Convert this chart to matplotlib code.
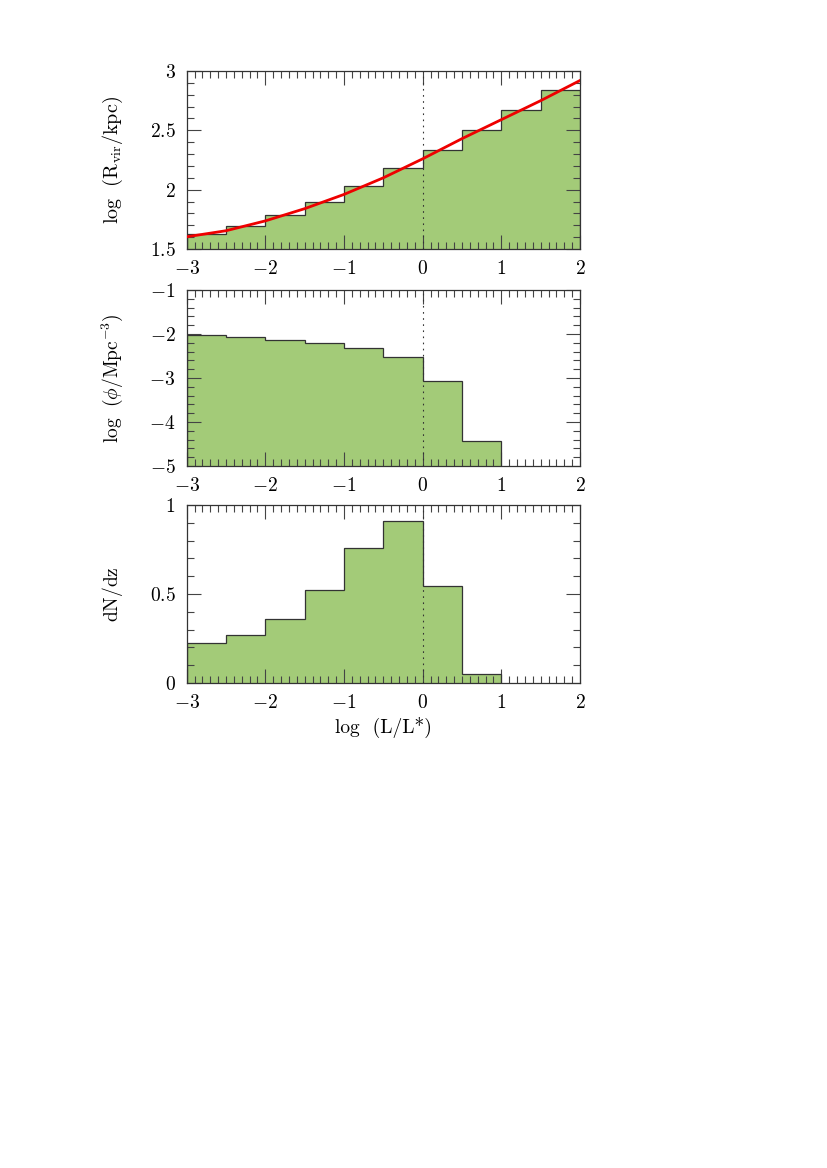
import matplotlib
matplotlib.use('Agg')
import matplotlib.pyplot as plt
from matplotlib.ticker import MultipleLocator, FuncFormatter
import numpy as np

plt.rcParams['font.family'] = 'serif'
plt.rcParams['font.serif'] = ['cmr10', 'DejaVu Serif']
plt.rcParams['mathtext.fontset'] = 'cm'
plt.rcParams['axes.unicode_minus'] = False

# bin edges in log(L/L*)
edges = [-3.0, -2.5, -2.0, -1.5, -1.0, -0.5, 0.0, 0.5, 1.0, 1.5, 2.0]
edges_phi = [-3.0, -2.5, -2.0, -1.5, -1.0, -0.5, 0.0, 0.5, 1.0]
edges_dndz = [-3.0, -2.5, -2.0, -1.5, -1.0, -0.5, 0.0, 0.5, 1.0]

# histogram values
log_rvir = [1.63, 1.69, 1.785, 1.90, 2.03, 2.18, 2.335, 2.50, 2.67, 2.84]
log_phi = [-2.02, -2.07, -2.14, -2.20, -2.31, -2.53, -3.06, -4.42]
dndz = [0.223, 0.268, 0.362, 0.525, 0.76, 0.91, 0.548, 0.053]

# red relation in the top panel
curve_x = [-3.0, -2.5, -2.0, -1.5, -1.0, -0.5, 0.0, 0.5, 1.0, 1.5, 2.0]
curve_y = [1.603, 1.654, 1.737, 1.84, 1.96, 2.10, 2.26, 2.43, 2.59, 2.75, 2.92]

green = '#a3cb78'
edge_col = '#333333'
tick_col = '#444444'

fig = plt.figure(figsize=(8.27, 11.68), dpi=100)

left, width = 0.2257, 0.4756
panels = [
    (0.7868, 0.1524),  # top
    (0.6010, 0.1507),  # middle
    (0.4152, 0.1524),  # bottom
]

def fmt(v, pos):
    s = '%g' % v
    return '$' + s + '$'

axes = []
for bottom, height in panels:
    ax = fig.add_axes([left, bottom, width, height])
    ax.set_xlim(-3, 2)
    ax.xaxis.set_major_locator(MultipleLocator(1))
    ax.xaxis.set_minor_locator(MultipleLocator(0.1))
    ax.xaxis.set_major_formatter(FuncFormatter(fmt))
    ax.yaxis.set_major_formatter(FuncFormatter(fmt))
    ax.tick_params(which='both', direction='in', top=True, right=True,
                   color=tick_col, width=0.8, labelsize=14, pad=8)
    ax.tick_params(which='major', length=10)
    ax.tick_params(which='minor', length=5)
    for sp in ax.spines.values():
        sp.set_color(edge_col)
        sp.set_linewidth(0.9)
    axes.append(ax)

ax1, ax2, ax3 = axes

# top panel: virial radius
ax1.set_ylim(1.5, 3)
ax1.yaxis.set_major_locator(MultipleLocator(0.5))
ax1.yaxis.set_minor_locator(MultipleLocator(0.1))
ax1.stairs(log_rvir, edges, baseline=1.5, fill=True, color=green, zorder=1)
ax1.stairs(log_rvir, edges, baseline=1.5, color=edge_col, lw=0.9, zorder=2)
ax1.plot(curve_x, curve_y, color='#ee0000', lw=2.0, zorder=4)
ax1.set_ylabel(r'$\mathrm{log\ \ (R_{vir}/kpc)}$', fontsize=14.5)

# middle panel: number density
ax2.set_ylim(-5, -1)
ax2.yaxis.set_major_locator(MultipleLocator(1))
ax2.yaxis.set_minor_locator(MultipleLocator(0.2))
ax2.stairs(log_phi, edges_phi, baseline=-5, fill=True, color=green, zorder=1)
ax2.stairs(log_phi, edges_phi, baseline=-5, color=edge_col, lw=0.9, zorder=2)
ax2.set_ylabel(r'$\mathrm{log\ \ (}\phi\mathrm{/Mpc^{-3})}$', fontsize=14)

# bottom panel: dN/dz
ax3.set_ylim(0, 1)
ax3.yaxis.set_major_locator(MultipleLocator(0.5))
ax3.yaxis.set_minor_locator(MultipleLocator(0.1))
ax3.stairs(dndz, edges_dndz, baseline=0, fill=True, color=green, zorder=1)
ax3.stairs(dndz, edges_dndz, baseline=0, color=edge_col, lw=0.9, zorder=2)
ax3.set_ylabel(r'$\mathrm{dN/dz}$', fontsize=14)
ax3.set_xlabel('log  (L/L*)', fontsize=14, family='cmr10')
ax3.xaxis.set_label_coords(0.5, -0.19)

for ax in axes:
    ax.axvline(0, color=edge_col, lw=0.8, ls=(0, (1.5, 4)), zorder=3)
    ax.yaxis.set_label_coords(-0.157, 0.5)

fig.savefig('out.png', dpi=100, facecolor='white')
